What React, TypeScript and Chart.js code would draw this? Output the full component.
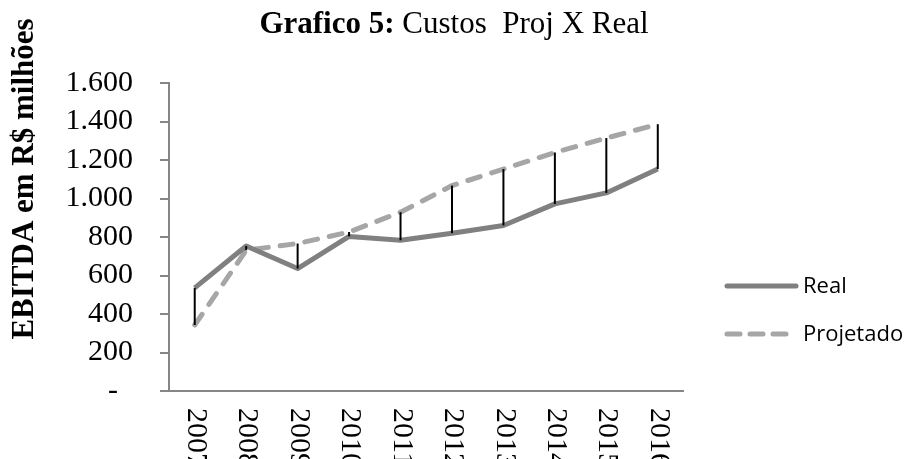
import React, { useEffect, useRef } from "react";
import { Chart, registerables } from "chart.js";

Chart.register(...registerables);

const categories = ["2007", "2008", "2009", "2010", "2011", "2012", "2013", "2014", "2015", "2016"];
const realValues = [536, 753, 636, 803, 783, 820, 860, 972, 1029, 1153];
const projValues = [343, 731, 766, 826, 929, 1067, 1153, 1239, 1314, 1386];
const yMin = 0;
const yMax = 1600;
const yStep = 200;
const titleBold = "Grafico 5:";
const titleRest = " Custos  Proj X Real";
const yAxisTitle = "EBITDA em R$ milhões";
const seriesNames = ["Real", "Projetado"];

const SERIF = "'Liberation Serif', 'Times New Roman', serif";
const SANS = "'Open Sans', sans-serif";
const AXIS_COLOR = "#868686";
const REAL_COLOR = "#808080";
const PROJ_COLOR = "#a6a6a6";

function fmt(v: number): string {
  if (v === 0) return "-  ";
  return v.toLocaleString("de-DE");
}

const decorPlugin = {
  id: "decor",
  afterDatasetsDraw(chart: any) {
    const ctx = chart.ctx;
    const xs = chart.scales.x;
    const ys = chart.scales.y;
    ctx.save();
    ctx.strokeStyle = "#000000";
    ctx.lineWidth = 2;
    for (let i = 0; i < categories.length; i++) {
      const x = xs.getPixelForValue(i);
      const y1 = ys.getPixelForValue(realValues[i]);
      const y2 = ys.getPixelForValue(projValues[i]);
      ctx.beginPath();
      ctx.moveTo(x, y1);
      ctx.lineTo(x, y2);
      ctx.stroke();
    }
    ctx.restore();
  },
  afterDraw(chart: any) {
    const ctx = chart.ctx;
    const xs = chart.scales.x;
    ctx.save();
    ctx.fillStyle = "#000";
    ctx.font = `30px ${SERIF}`;
    ctx.textAlign = "left";
    ctx.textBaseline = "middle";
    for (let i = 0; i < categories.length; i++) {
      const x = xs.getPixelForValue(i);
      ctx.save();
      ctx.translate(x + 1, chart.chartArea.bottom + 17);
      ctx.rotate(Math.PI / 2);
      ctx.fillText(categories[i], 0, 0);
      ctx.restore();
    }
    ctx.textBaseline = "alphabetic";
    ctx.font = `bold 31px ${SERIF}`;
    const wb = ctx.measureText(titleBold).width;
    ctx.font = `31px ${SERIF}`;
    const wr = ctx.measureText(titleRest).width;
    const startX = 454 - (wb + wr) / 2;
    ctx.font = `bold 31px ${SERIF}`;
    ctx.fillText(titleBold, startX, 33);
    ctx.font = `31px ${SERIF}`;
    ctx.fillText(titleRest, startX + wb, 33);
    ctx.save();
    ctx.font = `bold 31px ${SERIF}`;
    ctx.textAlign = "center";
    ctx.translate(33, 179);
    ctx.rotate(-Math.PI / 2);
    ctx.fillText(yAxisTitle, 0, 0);
    ctx.restore();
    const items = [
      { name: seriesNames[0], color: REAL_COLOR, dash: [] as number[], y: 286 },
      { name: seriesNames[1], color: PROJ_COLOR, dash: [13, 10], y: 334 },
    ];
    ctx.font = `22px ${SANS}`;
    ctx.textAlign = "left";
    ctx.textBaseline = "middle";
    for (const it of items) {
      ctx.save();
      ctx.strokeStyle = it.color;
      ctx.lineWidth = 5;
      ctx.lineCap = "round";
      ctx.setLineDash(it.dash);
      ctx.beginPath();
      ctx.moveTo(727, it.y);
      ctx.lineTo(796, it.y);
      ctx.stroke();
      ctx.restore();
      ctx.fillStyle = "#000";
      ctx.fillText(it.name, 803, it.y + 1);
    }
    ctx.restore();
  },
};

export default function App() {
  const ref = useRef<HTMLCanvasElement | null>(null);
  useEffect(() => {
    if (!ref.current) return;
    const chart = new Chart(ref.current, {
      type: "line",
      data: {
        labels: categories,
        datasets: [
          {
            label: seriesNames[0],
            data: realValues,
            borderColor: REAL_COLOR,
            backgroundColor: REAL_COLOR,
            borderWidth: 5,
            pointRadius: 0,
            tension: 0,
            borderJoinStyle: "round",
            borderCapStyle: "butt",
          },
          {
            label: seriesNames[1],
            data: projValues,
            borderColor: PROJ_COLOR,
            backgroundColor: PROJ_COLOR,
            borderWidth: 5,
            borderDash: [13, 12],
            borderCapStyle: "round",
            pointRadius: 0,
            tension: 0,
          },
        ],
      },
      options: {
        animation: false,
        responsive: true,
        maintainAspectRatio: false,
        layout: { padding: { top: 83, right: 227.5, bottom: 0, left: 0 } },
        plugins: {
          legend: { display: false },
          title: { display: false },
          tooltip: { enabled: false },
        },
        scales: {
          x: {
            type: "category",
            offset: true,
            grid: { display: false, offset: true },
            border: { display: true, color: AXIS_COLOR, width: 2 },
            ticks: { display: false },
            afterFit(scale: any) {
              scale.height = 68;
            },
          },
          y: {
            min: yMin,
            max: yMax,
            ticks: {
              stepSize: yStep,
              autoSkip: false,
              padding: 27,
              color: "#000",
              font: { family: SERIF, size: 30 },
              callback: (v: any) => fmt(Number(v)),
            },
            grid: {
              display: true,
              drawOnChartArea: false,
              drawTicks: true,
              tickLength: 9,
              color: AXIS_COLOR,
              lineWidth: 2,
            },
            border: { display: true, color: AXIS_COLOR, width: 2 },
            afterFit(scale: any) {
              scale.width = 169;
            },
          },
        },
      },
      plugins: [decorPlugin],
    });
    return () => chart.destroy();
  }, []);
  return (
    <div style={{ position: "fixed", left: 0, top: 0, width: 911, height: 459, background: "#fff" }}>
      <canvas ref={ref} />
    </div>
  );
}
